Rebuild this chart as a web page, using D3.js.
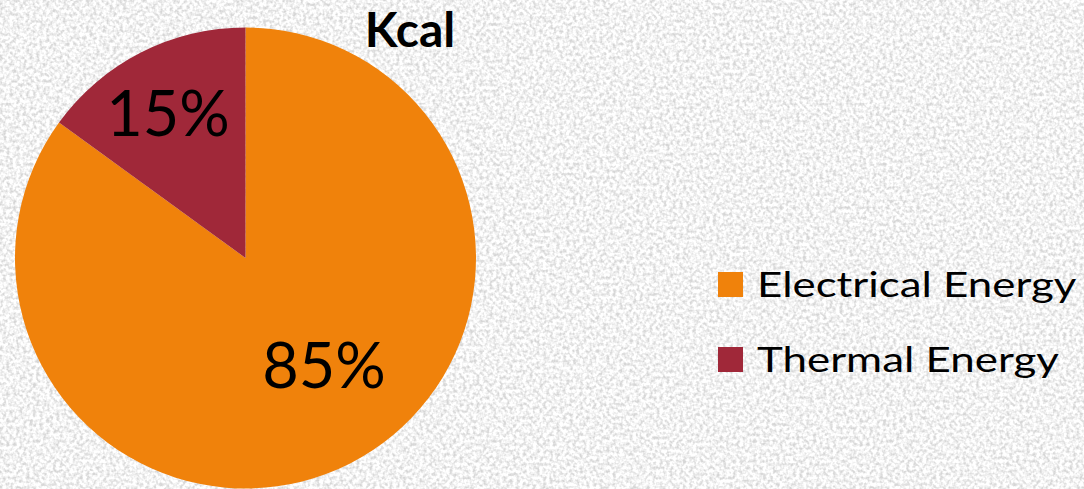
<!DOCTYPE html>
<html lang="en">
<head>
    <meta charset="UTF-8">
    <title>Kcal pie</title>
    <script src="https://cdnjs.cloudflare.com/ajax/libs/d3/7.8.5/d3.min.js"></script>
    <style>
        body { margin: 0; overflow: hidden; }
        svg text { font-family: Lato, "Open Sans", sans-serif; fill: #000; }
    </style>
</head>
<body>
<svg id="canvas" width="1084" height="489"></svg>
<script>
    // data
    const categories = ["Electrical Energy", "Thermal Energy"];
    const values = [85, 15];
    const colors = ["#F0820B", "#A02839"];
    const title = "Kcal";

    const svg = d3.select("#canvas");
    const W = 1084, H = 489;

    // textured grey background
    const defs = svg.append("defs");
    const f = defs.append("filter").attr("id", "grain")
        .attr("x", 0).attr("y", 0).attr("width", "100%").attr("height", "100%");
    f.append("feTurbulence").attr("type", "fractalNoise")
        .attr("baseFrequency", 0.3).attr("numOctaves", 2).attr("seed", 3).attr("result", "n");
    f.append("feColorMatrix").attr("in", "n").attr("type", "matrix")
        .attr("values", "0 0 0 0 1  0 0 0 0 1  0 0 0 0 1  0 0 0 -2.6 2.0");

    svg.append("rect").attr("width", W).attr("height", H).attr("fill", "#d6d6d6");
    svg.append("rect").attr("width", W).attr("height", H).attr("filter", "url(#grain)");

    // pie
    const cx = 245.5, cy = 258, r = 230.5;
    const pie = d3.pie().sort(null).value(d => d)(values);
    const arc = d3.arc().innerRadius(0).outerRadius(r);

    const g = svg.append("g").attr("transform", `translate(${cx},${cy})`);
    g.selectAll("path")
        .data(pie)
        .enter()
        .append("path")
        .attr("d", arc)
        .attr("fill", (d, i) => colors[i]);

    // percentage labels
    const labelPos = [[324, 388], [168, 136]];
    g.selectAll("text.pct")
        .data(pie)
        .enter()
        .append("text")
        .attr("class", "pct")
        .attr("x", (d, i) => labelPos[i][0] - cx)
        .attr("y", (d, i) => labelPos[i][1] - cy)
        .attr("text-anchor", "middle")
        .style("font-size", "63px")
        .text(d => d.value + "%");

    // title
    svg.append("text")
        .attr("x", 410).attr("y", 47)
        .attr("text-anchor", "middle")
        .style("font-size", "48px")
        .style("font-weight", "bold")
        .text(title);

    // legend
    const legend = svg.append("g").attr("transform", "translate(718,272)");
    const item = legend.selectAll("g")
        .data(categories)
        .enter()
        .append("g")
        .attr("transform", (d, i) => `translate(0,${i * 75})`);
    item.append("rect")
        .attr("width", 25).attr("height", 25)
        .attr("fill", (d, i) => colors[i]);
    item.append("text")
        .attr("x", 39).attr("y", 25)
        .style("font-size", "34px")
        .text(d => d)
        .each(function () {
            // the reference legend is set wider than the font gives
            const w = this.getComputedTextLength();
            d3.select(this).attr("textLength", w * 1.29).attr("lengthAdjust", "spacingAndGlyphs");
        });
</script>
</body>
</html>
